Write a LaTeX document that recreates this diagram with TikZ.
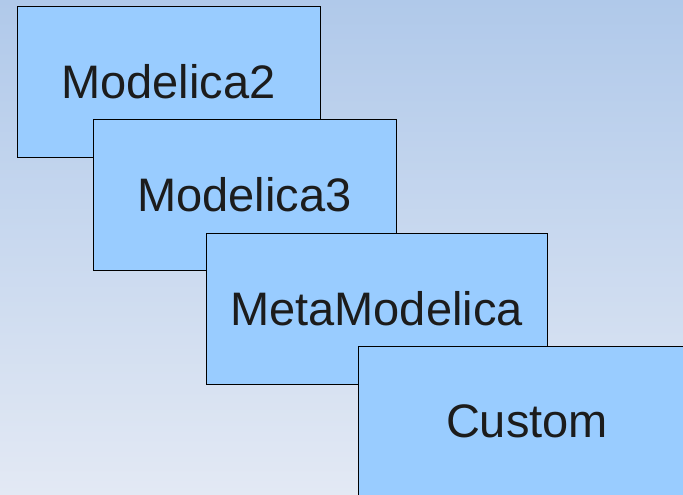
\documentclass[tikz,border=0pt]{standalone}
\usepackage{fontspec}
\setmainfont{Liberation Sans}
\definecolor{boxblue}{HTML}{99CCFF}
\definecolor{bgtop}{HTML}{B0C9EA}
\definecolor{bgbot}{HTML}{E3E9F4}
\definecolor{txtgray}{HTML}{1C1C1C}

\begin{document}
\begin{tikzpicture}[x=1pt,y=-1pt,
    layer/.style={draw=black,line width=0.8pt,fill=boxblue,inner sep=0pt,
        minimum height=151pt,text=txtgray,font=\fontsize{47}{56}\selectfont}]
    \useasboundingbox (0,0) rectangle (683,495);
    \clip (0,0) rectangle (683,495);
    \shade[top color=bgtop,bottom color=bgbot] (0,0) rectangle (683,495);
    \node[layer,minimum width=303pt] (mod2) at (168.5,82) {Modelica2};
    \node[layer,minimum width=303pt] (mod3) at (244.5,195) {Modelica3};
    \node[layer,minimum width=341pt] (meta) at (376.5,308.5) {MetaModelica};
    \node[layer,minimum width=338pt] (custom) at (527,421.5) {Custom};
\end{tikzpicture}
\end{document}
